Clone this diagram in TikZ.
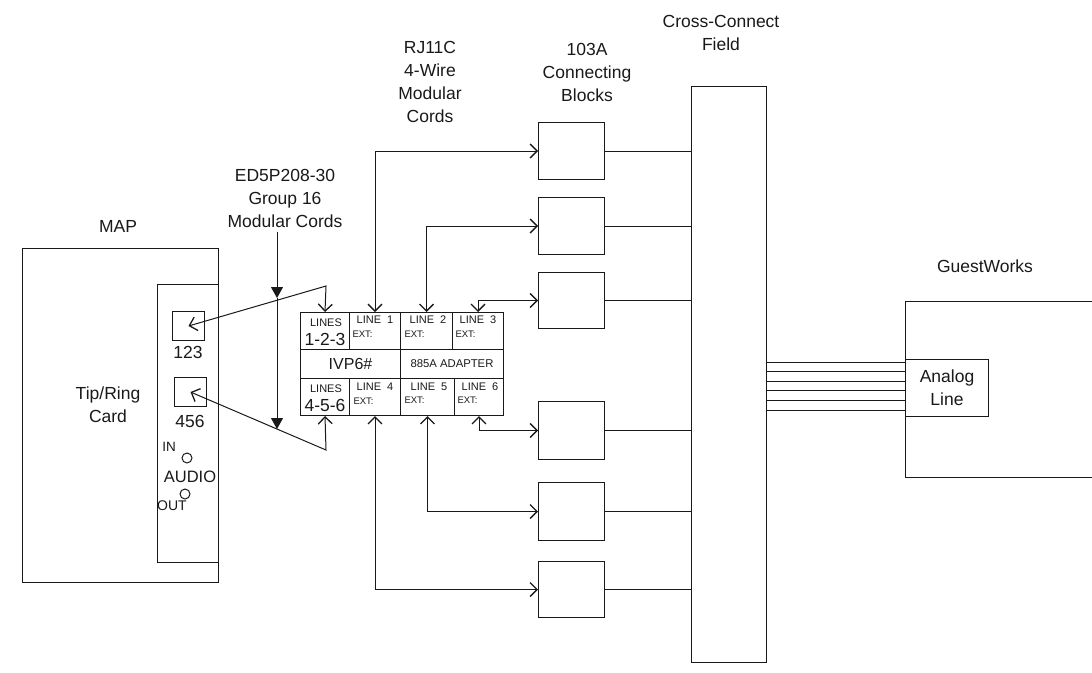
\documentclass[tikz,border=0pt]{standalone}
\usepackage{fontspec}
\setmainfont{Liberation Sans}
\usetikzlibrary{arrows.meta}

\tikzset{
  box/.style={draw,rectangle,anchor=north west,inner sep=0pt},
  txt/.style={inner sep=0pt,align=center,font=\fontsize{17.5}{23}\selectfont},
  smalltxt/.style={inner sep=0pt,font=\fontsize{11}{13}\selectfont},
  exttxt/.style={inner sep=0pt,anchor=west,font=\fontsize{9.5}{11}\selectfont},
  bigtxt/.style={inner sep=0pt,font=\fontsize{17.5}{20}\selectfont},
  wire/.style={<->,>={Straight Barb[length=7pt,width=14pt,line width=1.3pt]}},
  cordtip/.style={-{Triangle[length=11pt,width=12pt]}}
}

\begin{document}
\begin{tikzpicture}[x=1pt,y=-1pt,line width=1pt,draw=black!90,text=black!90]

  \useasboundingbox (0,0) rectangle (1092,672);

  % --- MAP and its card ---
  \node[box,minimum width=196pt,minimum height=334pt] (map) at (22,248) {};
  \node[box,minimum width=61pt,minimum height=278pt] (card) at (157,284) {};
  \node[box,minimum width=32pt,minimum height=29pt] (jacka) at (172,311) {};
  \node[box,minimum width=32pt,minimum height=29pt] (jackb) at (174,377) {};
  \node[txt] (maplabel) at (118,226) {MAP};
  \node[txt] (cardlabel) at (108,405) {Tip/Ring\\Card};
  \node[txt] (jackalabel) at (188,352) {123};
  \node[txt] (jackblabel) at (190,421) {456};
  \node[txt,font=\fontsize{13.5}{15}\selectfont] (inlabel) at (169,447) {IN};
  \node[txt,font=\fontsize{16.5}{18}\selectfont] (audiolabel) at (190,477) {AUDIO};
  \node[txt,font=\fontsize{14}{16}\selectfont] (outlabel) at (172,506) {OUT};
  \node[draw,circle,inner sep=0pt,minimum size=10pt] (ledin) at (187,458) {};
  \node[draw,circle,inner sep=0pt,minimum size=10pt] (ledout) at (185,494) {};

  % --- adapter cells: name/x/y/width/height ---
  \foreach \name/\x/\y/\w/\h in {%
    linesa/300/312/49/37,
    linea/349/312/51/37,
    lineb/400/312/52/37,
    linec/452/312/51/37,
    ivp/300/349/100/29,
    adapter/400/349/103/29,
    linesb/300/378/49/37,
    lined/349/378/51/37,
    linee/400/378/54/37,
    linef/454/378/49/37
  } {
    \node[box,minimum width=\w pt,minimum height=\h pt] (\name) at (\x,\y) {};
  }

  % --- adapter texts ---
  \node[smalltxt] at (326,323) {LINES};
  \node[bigtxt] at (325,339) {1-2-3};
  \node[smalltxt] at (326,389) {LINES};
  \node[bigtxt] at (325,405) {4-5-6};
  \node[txt,font=\fontsize{16}{18}\selectfont] at (ivp) {IVP6\#};
  \node[smalltxt,font=\fontsize{11.3}{13}\selectfont] at (adapter) {885A ADAPTER};
  \foreach \i/\x/\y in {1/375/320,2/428/320,3/478/320,4/375/387,5/429/387,6/480/387} {
    \node[smalltxt] at (\x,\y) {LINE\ \ \i};
  }
  \foreach \x/\y in {352/334,404/334,455/334,353/401,404/400,457/400} {
    \node[exttxt] at (\x,\y) {EXT:};
  }

  % --- cross-connect field and connecting blocks ---
  \node[box,minimum width=75pt,minimum height=576pt] (field) at (691,86) {};
  \node[txt] (fieldlabel) at (721,33) {Cross-Connect\\Field};
  \node[txt] (rjlabel) at (430,82) {RJ11C\\4-Wire\\Modular\\Cords};
  \node[txt] (blocklabel) at (587,72) {103A\\Connecting\\Blocks};
  \node[txt] (edlabel) at (285,198) {ED5P208-30\\Group 16\\Modular Cords};

  \foreach \name/\y/\h in {%
    blocka/122/57,
    blockb/197/57,
    blockc/272/56,
    blockd/401/58,
    blocke/482/58,
    blockf/561/56
  } {
    \node[box,minimum width=66pt,minimum height=\h pt] (\name) at (538,\y) {};
    \draw (\name.east) -- (\name.east -| field.west);
  }

  % --- wires from the adapter to the blocks ---
  \draw[wire] (linea.north) |- (blocka.west);
  \draw[wire] (lineb.north) |- (blockb.west);
  \draw[wire] (linec.north) |- (blockc.west);
  \draw[wire] (linef.south) |- (blockd.west);
  \draw[wire] (linee.south) |- (blocke.west);
  \draw[wire] (lined.south) |- (blockf.west);

  % --- cords from the card jacks to the adapter ---
  \coordinate (benda) at (326,286);
  \coordinate (bendb) at (326,450);
  \draw[wire] (jacka.center) -- (benda) -- (linesa.north);
  \draw[wire] (jackb.center) -- (bendb) -- (linesb.south);

  % --- marker line for the modular cords ---
  \coordinate (cordtop) at (277,232);
  \coordinate (cordmid) at (277,298);
  \coordinate (cordend) at (277,429);
  \draw[cordtip] (cordtop) -- (cordmid);
  \draw[cordtip] (cordmid) -- (cordend);

  % --- GuestWorks, open towards the right ---
  \coordinate (guesta) at (1092,301);
  \coordinate (guestb) at (1092,477);
  \draw (guesta) -- (905,301) -- (905,477) -- (guestb);
  \node[txt] (guestlabel) at (985,266) {GuestWorks};
  \node[box,fill=white,minimum width=83pt,minimum height=57pt] (analog) at (905,359) {};
  \node[txt] (analoglabel) at (analog) {Analog\\Line};

  % --- six lines between field and analog line ---
  \foreach \y in {362,371.5,381,390.5,400,410} {
    \draw (field.east |- 0,\y) -- (analog.west |- 0,\y);
  }

\end{tikzpicture}
\end{document}
